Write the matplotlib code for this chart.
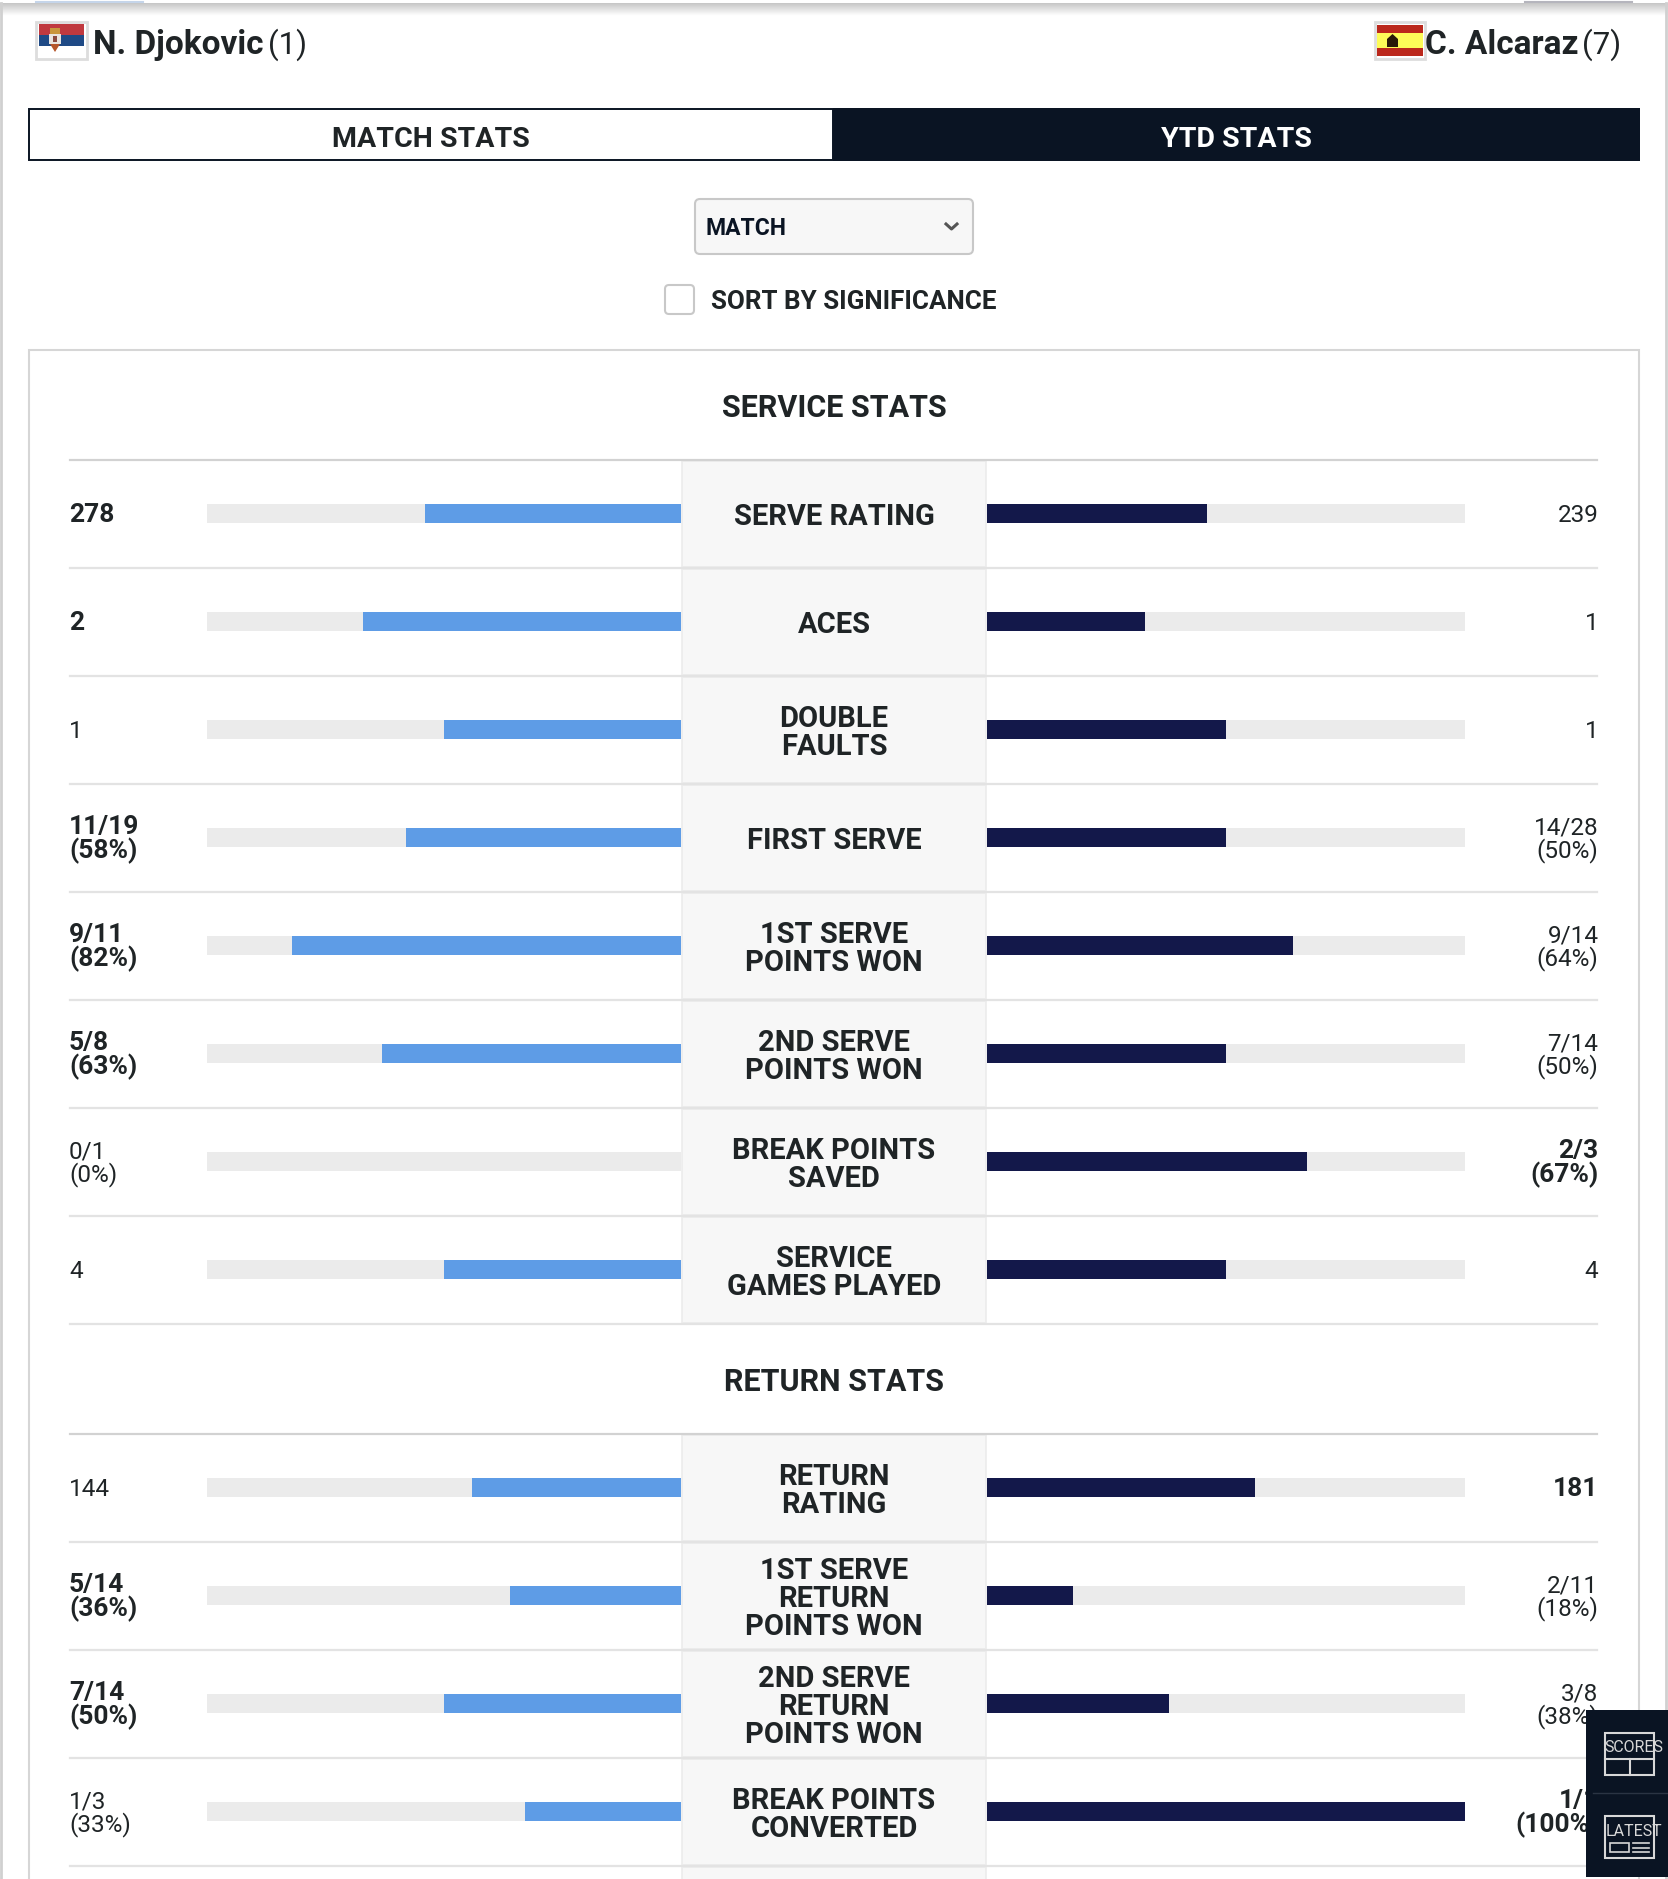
"""ATP match stats panel, drawn in pixel coordinates on one full-figure axes."""

import numpy as np
import matplotlib
matplotlib.use("Agg")
import matplotlib.pyplot as plt
from matplotlib.patches import Rectangle, FancyBboxPatch, Polygon

service_labels = ["SERVE RATING", "ACES", "DOUBLE\nFAULTS", "FIRST SERVE",
                  "1ST SERVE\nPOINTS WON", "2ND SERVE\nPOINTS WON",
                  "BREAK POINTS\nSAVED", "SERVICE\nGAMES PLAYED"]
service_left_text = ["278", "2", "1", "11/19\n(58%)", "9/11\n(82%)", "5/8\n(63%)", "0/1\n(0%)", "4"]
service_right_text = ["239", "1", "1", "14/28\n(50%)", "9/14\n(64%)", "7/14\n(50%)", "2/3\n(67%)", "4"]
service_left_pct = [54, 67, 50, 58, 82, 63, 0, 50]
service_right_pct = [46, 33, 50, 50, 64, 50, 67, 50]
service_left_bold = [True, True, False, True, True, True, False, False]
service_right_bold = [False, False, False, False, False, False, True, False]

return_labels = ["RETURN\nRATING", "1ST SERVE\nRETURN\nPOINTS WON",
                 "2ND SERVE\nRETURN\nPOINTS WON", "BREAK POINTS\nCONVERTED"]
return_left_text = ["144", "5/14\n(36%)", "7/14\n(50%)", "1/3\n(33%)"]
return_right_text = ["181", "2/11\n(18%)", "3/8\n(38%)", "1/1\n(100%)"]
return_left_pct = [44, 36, 50, 33]
return_right_pct = [56, 18, 38, 100]
return_left_bold = [False, True, True, False]
return_right_bold = [True, False, False, True]

INK = "#1f2426"
DARK = "#0a1423"
NAVY = "#13184a"
BLUE = "#5e9ce6"
TRACK = "#ebebeb"
CELL = "#f7f7f7"
LINE = "#e3e3e3"
ROW_H = 108.0
TRACK_L, TRACK_R = 207, 681
CELL_R = 987
LEFT_W = TRACK_R - TRACK_L
RIGHT_W = 478

plt.rcParams["font.family"] = ["Roboto", "DejaVu Sans"]

fig = plt.figure(figsize=(16.68, 18.79), dpi=100)
ax = fig.add_axes([0, 0, 1, 1])
ax.set_xlim(0, 1668); ax.set_ylim(1879, 0)
ax.axis("off")


def box(x0, y0, x1, y1, fc="none", ec="none", lw=0, z=2):
    ax.add_patch(Rectangle((x0, y0), x1 - x0, y1 - y0, fc=fc, ec=ec, lw=lw, zorder=z))


def section(top, labels, ltext, rtext, lpct, rpct, lbold, rbold):
    n = len(labels)
    tops = top + ROW_H * np.arange(n)
    ys = tops + 53.5
    ax.plot([70, 1597], [top, top], color="#d2d2d2", lw=1.6, zorder=3)
    # centre label cells
    for t, lab in zip(tops, labels):
        box(TRACK_R + 1, t + 1, CELL_R - 1, t + ROW_H - 1, fc=CELL, ec="#ececec", lw=1.2)
        ax.text(834, t + 57, lab, ha="center", va="center", fontsize=21, fontweight="bold",
                color=INK, linespacing=0.99, zorder=5)
        ax.plot([70, 1597], [t + ROW_H, t + ROW_H], color=LINE, lw=1.6, zorder=3)
    # bars
    ax.barh(ys, [LEFT_W] * n, height=18.5, left=TRACK_L, color=TRACK, zorder=3)
    ax.barh(ys, [RIGHT_W] * n, height=18.5, left=CELL_R, color=TRACK, zorder=3)
    lw = np.array(lpct) / 100 * LEFT_W
    ax.barh(ys, lw, height=18.5, left=TRACK_R - lw, color=BLUE, zorder=4)
    ax.barh(ys, np.array(rpct) / 100 * RIGHT_W, height=18.5, left=CELL_R, color=NAVY, zorder=4)
    # values at both ends
    for y, s, b in zip(ys, ltext, lbold):
        ax.text(69, y + 2, s, ha="left", va="center", fontsize=19 if b else 17.5,
                fontweight="bold" if b else "regular", color=INK, linespacing=0.95, zorder=5)
    for y, s, b in zip(ys, rtext, rbold):
        ax.text(1598.5, y + 2, s, ha="right", va="center", fontsize=19 if b else 17.5, multialignment="right",
                fontweight="bold" if b else "regular", color=INK, linespacing=0.95, zorder=5)


# page frame and top shadow
grad = np.linspace(0.78, 1, 14).reshape(-1, 1)
ax.imshow(grad, extent=[0, 1668, 16, 3], cmap="gray", vmin=0, vmax=1, aspect="auto", zorder=1)
ax.set_xlim(0, 1668); ax.set_ylim(1879, 0)
ax.plot([1, 1], [3, 1879], color="#d0d0d0", lw=2, zorder=1)
ax.plot([1666, 1666], [3, 1879], color="#d0d0d0", lw=2, zorder=1)
ax.plot([36, 143], [2, 2], color="#c5d5ea", lw=1.5, zorder=2)
ax.plot([1525, 1632], [2, 2], color="#b5b5bd", lw=1.5, zorder=2)

# Serbian flag
box(36, 22, 87, 59, fc="#ffffff", ec="#dddddd", lw=2)
box(39, 24, 84, 35, fc="#c0393f", z=3)
box(39, 35, 84, 46, fc="#1f4a86", z=3)
box(50, 28, 60, 34, fc="#c9963c", z=4)
box(49, 34, 61, 44, fc="#e9e4df", z=4)
ax.add_patch(Polygon([(50, 44), (60, 44), (55, 52)], fc="#b5552a", ec="none", zorder=4))
box(53, 36, 57, 42, fc="#8a4a40", z=5)
# Spanish flag
box(1375, 22, 1425, 59, fc="#ffffff", ec="#dddddd", lw=2)
box(1377, 25, 1423, 33, fc="#bb281c", z=3)
box(1377, 33, 1423, 48, fc="#fdfc58", z=3)
box(1377, 48, 1423, 56, fc="#bb281c", z=3)
ax.add_patch(Polygon([(1387, 47), (1387, 39), (1392.5, 34), (1398, 39), (1398, 47)],
                     fc="#2a1a08", ec="none", zorder=4))

ax.text(93, 45, "N. Djokovic", ha="left", va="center", fontsize=24, fontweight="bold", color=INK)
ax.text(268, 45, "(1)", ha="left", va="center", fontsize=22.5, fontweight="regular", color=INK)
ax.text(1425, 45, "C. Alcaraz", ha="left", va="center", fontsize=24, fontweight="bold", color=INK)
ax.text(1582, 45, "(7)", ha="left", va="center", fontsize=22.5, fontweight="regular", color=INK)

# tabs
box(29, 109, 833, 160, fc="white", ec=DARK, lw=1.4)
box(833, 108, 1640, 161, fc=DARK)
ax.text(431, 139, "MATCH STATS", ha="center", va="center", fontsize=20.5, fontweight="bold", color=INK)
ax.text(1236, 139, "YTD STATS", ha="center", va="center", fontsize=20.5, fontweight="bold", color="white")

# dropdown and checkbox
ax.add_patch(FancyBboxPatch((698, 202), 272, 49, boxstyle="round,pad=3,rounding_size=5",
                            fc=CELL, ec="#c8c8c8", lw=1.5, zorder=2))
ax.text(706, 228, "MATCH", ha="left", va="center", fontsize=16.5, fontweight="bold", color=DARK, zorder=3)
ax.plot([946, 951.5, 957], [224, 229, 224], color="#555555", lw=2.2, zorder=3)
ax.add_patch(FancyBboxPatch((667, 287), 25, 25, boxstyle="round,pad=2,rounding_size=4",
                            fc="white", ec="#c8c8c8", lw=1.5, zorder=2))
ax.text(711, 301.5, "SORT BY SIGNIFICANCE", ha="left", va="center", fontsize=18.7, fontweight="bold", color=INK)

# card
box(29, 350, 1639, 1885, fc="white", ec="#d6d6d6", lw=1.5, z=1.5)
ax.text(834, 408, "SERVICE STATS", ha="center", va="center", fontsize=22, fontweight="bold", color=INK)
ax.text(834, 1382, "RETURN STATS", ha="center", va="center", fontsize=22, fontweight="bold", color=INK)

section(460, service_labels, service_left_text, service_right_text,
        service_left_pct, service_right_pct, service_left_bold, service_right_bold)
section(1434, return_labels, return_left_text, return_right_text,
        return_left_pct, return_right_pct, return_left_bold, return_right_bold)
box(TRACK_R + 1, 1867, CELL_R - 1, 1885, fc=CELL, ec="#ececec", lw=1.2)

# floating side buttons
box(1586, 1710, 1668, 1877, fc=DARK, z=8)
ax.plot([1593, 1668], [1793, 1793], color="#2a3443", lw=1, zorder=9)
box(1605, 1733, 1654, 1775, ec="#d8d8d8", lw=1.5, z=9)
ax.plot([1605, 1654], [1759, 1759], color="#d8d8d8", lw=1.5, zorder=9)
ax.plot([1630, 1630], [1759, 1775], color="#d8d8d8", lw=1.5, zorder=9)
box(1605, 1816, 1654, 1858, ec="#d8d8d8", lw=1.5, z=9)
box(1610, 1843, 1629, 1852, ec="#d8d8d8", lw=1.2, z=9)
for yy in [1843, 1847.5, 1852]:
    ax.plot([1633, 1649], [yy, yy], color="#d8d8d8", lw=1.2, zorder=9)
ax.text(1634, 1747, "SCORES", ha="center", va="center", fontsize=11.5, color="#d8d8d8", zorder=10)
ax.text(1634, 1831, "LATEST", ha="center", va="center", fontsize=11.5, color="#d8d8d8", zorder=10)

fig.savefig("out.png", dpi=100)
